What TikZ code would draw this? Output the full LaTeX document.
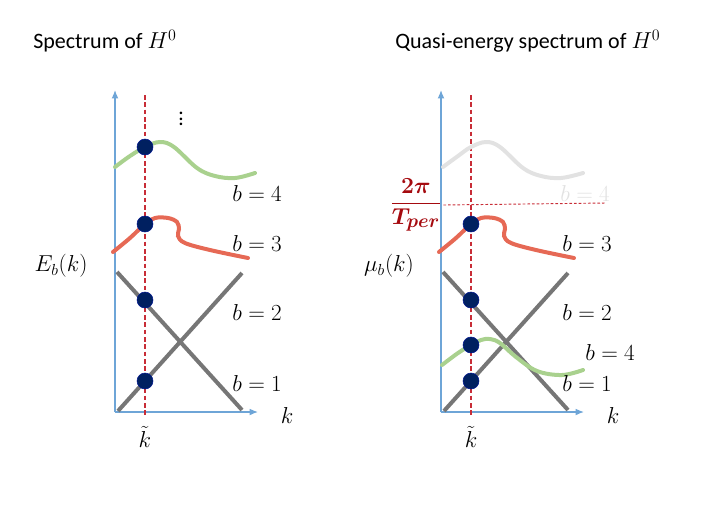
\documentclass[tikz,border=0pt]{standalone}
\usepackage{amsmath,bm}
\usepackage{fontspec}
\setmainfont{Carlito}
\usetikzlibrary{arrows.meta, positioning, calc}

\definecolor{axisblue}{RGB}{110,165,215}
\definecolor{kred}{RGB}{200,45,55}
\definecolor{fracred}{RGB}{165,10,15}
\definecolor{bandgray}{RGB}{118,118,118}
\definecolor{bandgreen}{RGB}{169,209,142}
\definecolor{bandred}{RGB}{230,105,85}
\definecolor{bandfaded}{RGB}{226,226,226}
\definecolor{navy}{RGB}{0,32,96}

\tikzset{
  axisline/.style={
    -{Latex[length=2.2mm,width=1.8mm]}, line width=1pt, color=axisblue
  },
  kline/.style={
    color=kred, line width=0.8pt, dash pattern=on 3.5pt off 2pt
  },
  gapline/.style={
    color=kred, line width=0.7pt, dash pattern=on 2pt off 1.5pt
  },
  bandline/.style={line width=3pt, color=bandgray},
  bandcurve/.style={line width=3pt, line cap=round, smooth, tension=0.6},
  statedot/.style={
    circle, fill=navy, draw=navy!70!blue, line width=0.4pt,
    minimum size=12pt, inner sep=0pt
  },
  bandlabel/.style={font=\fontsize{17}{20}\selectfont, anchor=west, inner sep=0pt},
  axislabel/.style={font=\fontsize{18}{21}\selectfont, inner sep=0pt},
  titletext/.style={font=\fontsize{16.5}{20}\selectfont, anchor=west, inner sep=0pt},
}

\begin{document}
\begin{tikzpicture}[x=0.75pt, y=-0.75pt]
  \useasboundingbox (0,0) rectangle (702,504);

  % left panel: spectrum
  \node[titletext] (lefttitle) at (33,41) {Spectrum of $H^0$};
  \coordinate (lorigin) at (115,412);
  \coordinate (ltop) at (115,90);
  \coordinate (lright) at (258,412);
  \draw[axisline] (lorigin) -- (ltop);
  \draw[axisline] (lorigin) -- (lright);
  \coordinate (lktop) at (145,95);
  \coordinate (lkbot) at (145,416);
  \draw[kline] (lktop) -- (lkbot);

  \draw[bandline] (117,272) -- (242,410);
  \draw[bandline] (118,411) -- (242,273);
  \draw[bandcurve, color=bandred] plot coordinates {
    (113,252) (130,238) (145,224) (155,218) (168,218) (177,222)
    (179,229) (178,236) (185,243) (210,250) (248,258)};
  \draw[bandcurve, color=bandgreen] plot coordinates {
    (115,167) (130,156) (145,147) (160,142) (174,147) (197,168)
    (215,176) (235,178) (255,173)};

  \node[statedot] (ldot4) at (145,147) {};
  \node[statedot] (ldot3) at (145,224) {};
  \node[statedot] (ldot2) at (145,300) {};
  \node[statedot] (ldot1) at (145,381) {};

  \node[font=\fontsize{16}{18}\selectfont, inner sep=0pt] (lmore) at (181,115) {$\vdots$};
  \node[bandlabel] (lb4) at (232,193) {$b=4$};
  \node[bandlabel] (lb3) at (232,243) {$b=3$};
  \node[bandlabel] (lb2) at (232,312) {$b=2$};
  \node[bandlabel] (lb1) at (232,383) {$b=1$};
  \node[axislabel] (lylabel) at (61,266) {$E_b(k)$};
  \node[axislabel] (lxlabel) at (287,415) {$k$};
  \node[axislabel] (lktilde) at (145,437) {$\tilde{k}$};

  % right panel: quasi-energy spectrum
  \node[titletext] (righttitle) at (395,41) {Quasi-energy spectrum of $H^0$};
  \coordinate (rorigin) at (441,412);
  \coordinate (rtop) at (441,90);
  \coordinate (rright) at (584,412);
  \draw[axisline] (rorigin) -- (rtop);
  \draw[axisline] (rorigin) -- (rright);
  \coordinate (rktop) at (471,95);
  \coordinate (rkbot) at (471,416);
  \draw[kline] (rktop) -- (rkbot);

  \draw[bandcurve, color=bandfaded] plot coordinates {
    (443,167) (458,156) (471,147) (486,142) (500,147) (523,168)
    (541,176) (561,178) (583,173)};
  \node[bandlabel, text=bandfaded] (rb4faded) at (560,193) {$b=4$};
  \node[font=\fontsize{19}{22}\selectfont, text=fracred, inner sep=1pt]
    (period) at (416,205) {$\dfrac{\bm{2\pi}}{\bm{T_{per}}}$};
  \coordinate (gapend) at (606,203);
  \draw[gapline] (period.east) -- (gapend);

  \draw[bandline] (443,272) -- (568,410);
  \draw[bandline] (444,411) -- (568,273);
  \draw[bandcurve, color=bandred] plot coordinates {
    (439,252) (456,238) (471,224) (481,218) (494,218) (503,222)
    (505,229) (504,236) (511,243) (536,250) (574,258)};
  \draw[bandcurve, color=bandgreen] plot coordinates {
    (442,365) (458,353) (471,345) (481,340) (490,339) (500,343)
    (516,357) (537,371) (562,375) (583,370)};

  \node[statedot] (rdot3) at (471,224) {};
  \node[statedot] (rdot2) at (471,300) {};
  \node[statedot] (rdot4) at (471,345) {};
  \node[statedot] (rdot1) at (471,381) {};

  \node[bandlabel] (rb3) at (562,243) {$b=3$};
  \node[bandlabel] (rb2) at (562,312) {$b=2$};
  \node[bandlabel] (rb4) at (585,352) {$b=4$};
  \node[bandlabel] (rb1) at (562,383) {$b=1$};
  \node[axislabel] (rylabel) at (389,266) {$\mu_b(k)$};
  \node[axislabel] (rxlabel) at (613,415) {$k$};
  \node[axislabel] (rktilde) at (471,437) {$\tilde{k}$};
\end{tikzpicture}
\end{document}
